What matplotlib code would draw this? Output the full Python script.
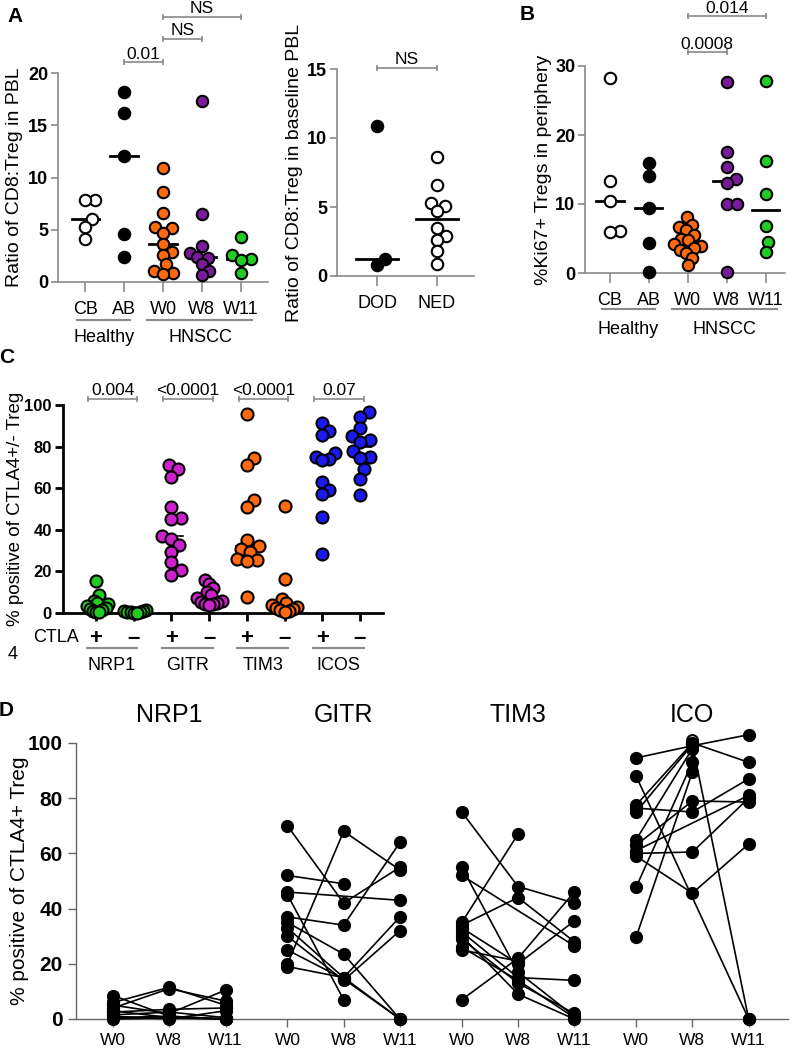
import numpy as np
import matplotlib
matplotlib.use('Agg')
import matplotlib.pyplot as plt

plt.rcParams['font.family'] = ['Liberation Sans', 'DejaVu Sans']

# ---------------- data ----------------
# panel A (left): ratio of CD8:Treg in PBL
a_groups = ['CB', 'AB', 'W0', 'W8', 'W11']
a_cb = [7.8, 7.8, 6.0, 5.3, 4.1]
a_ab = [18.2, 16.2, 12.1, 4.6, 2.4]
a_w0 = [10.9, 8.6, 6.6, 5.3, 5.2, 4.7, 3.6, 2.9, 2.6, 1.7, 1.1, 0.9, 0.8]
a_w8 = [17.3, 6.5, 3.4, 2.8, 2.4, 2.3, 1.7, 1.1, 0.7]
a_w11 = [4.3, 2.6, 2.2, 2.1, 0.9]

# panel A (right): baseline ratio by outcome
o_groups = ['DOD', 'NED']
o_dod = [10.9, 0.8, 1.2]
o_ned = [8.6, 6.6, 5.3, 5.1, 4.7, 3.5, 2.9, 2.6, 1.8, 0.9]

# panel B: %Ki67+ Tregs
b_cb = [28.3, 13.4, 10.5, 6.1, 5.9]
b_ab = [16.0, 14.1, 9.4, 4.4, 0.2]
b_w0 = [8.1, 7.0, 6.7, 6.2, 5.5, 5.0, 4.8, 4.2, 3.9, 3.6, 3.3, 2.9, 2.2, 1.1]
b_w8 = [27.7, 17.6, 15.3, 13.6, 13.1, 10.0, 10.0, 0.2]
b_w11 = [27.8, 16.3, 11.5, 6.8, 4.5, 3.1]

# panel C: % positive of CTLA4+/- Treg
c_markers = ['NRP1', 'GITR', 'TIM3', 'ICOS']
c_pvals = ['0.004', '<0.0001', '<0.0001', '0.07']
c_nrp1_pos = [15.5, 8.5, 6.0, 5.0, 4.5, 3.5, 2.5, 2.0, 1.5, 1.0, 0.5, 0.5]
c_nrp1_neg = [1.5, 1.0, 0.8, 0.5, 0.5, 0.3, 0.2, 0.2]
c_gitr_pos = [71, 69, 65.5, 51, 45.5, 45, 37, 35.5, 32.5, 29.5, 24.5, 20.5, 18.5]
c_gitr_neg = [16, 14, 12, 10, 8.5, 7, 6, 5.5, 5, 4.5, 4.5, 4]
c_tim3_pos = [95.5, 74.5, 71, 54.5, 51, 35, 32, 31, 29.5, 26, 25.5, 25, 7.5]
c_tim3_neg = [51.5, 16.5, 6.5, 5, 4, 3, 2.5, 2, 1.5, 1, 0.5]
c_icos_pos = [91.5, 87.5, 85.5, 77, 75, 74, 73.5, 63, 59, 57, 46, 28.5]
c_icos_neg = [96.5, 94, 89, 85, 83, 82, 78, 75, 74.5, 69, 64.5, 56.5]

# panel D: paired values per patient (W0, W8, W11), None = missing
d_timepoints = ['W0', 'W8', 'W11']
d_titles = ['NRP1', 'GITR', 'TIM3', 'ICO']
d_nrp1 = [[8.5, 1, 0], [6, 11.5, 5], [5, 2, 10.5], [4, 11, 6.5], [3, 0.5, 0],
          [2.5, 3.5, 4], [1.5, 2.5, 0.5], [1, 0, 3], [0.5, 1, 0], [0, 0.5, 0]]
d_gitr = [[70, 42, 55], [20, 68, 54], [52, 49, None], [46, None, 43], [45, 7, None],
          [37, 34, 64], [35, 23.5, 0], [33, 15, 37], [30, 14, 32], [25, 14.5, 0], [19, 15, 0]]
d_tim3 = [[75, 48, 42], [55, 17, 1], [52, None, 26.5], [35, 67, None], [34, 44, 28],
          [33, 20, 35.5], [31.5, 15, 14], [30, 9, 0], [29, 13, 2], [26, 14, 0.5],
          [25, 21, None], [7, 22, 46]]
d_ico = [[94.6, 99, 103], [88, None, 0], [59, 45.6, 63.4], [77.5, 100, 93], [76.4, 75, 87],
         [75, 99.5, 0], [65, 98, None], [63, 79, 78.6], [61, None, 81], [60, 60.5, 80],
         [47.8, 93, None], [29.7, 89.5, None]]
d_ico_open_w8 = [101]

ORANGE = '#ff6a10'
PURPLE = '#7b1a9c'
GREEN = '#22cc22'
MAGENTA = '#cc22cc'
BLUE = '#1a1aee'
GRAY = '#8a8a8a'

W, H = 793, 1050
fig = plt.figure(figsize=(W / 100, H / 100), dpi=100)


def rect(l, t, r, b):
    return [l / W, 1 - b / H, (r - l) / W, (b - t) / H]


def swarm(ax, vals, diam, lim):
    # simple beeswarm, squeezed to +-lim data units like GraphPad
    ypx = ax.transData.transform([(0, v) for v in vals])[:, 1]
    xs = ax.transData.transform([(0, 0), (1, 0)])[:, 0]
    xscale = xs[1] - xs[0]
    placed = []
    offs = np.zeros(len(vals))
    for i in np.argsort(vals):
        y = ypx[i]
        cands = [0.0]
        for px, py in placed:
            dy = y - py
            if abs(dy) < diam:
                dx = np.sqrt(diam ** 2 - dy ** 2)
                cands += [px + dx, px - dx]
        cands.sort(key=abs)
        for c in cands:
            if all((c - px) ** 2 + (y - py) ** 2 >= diam ** 2 - 1e-6 for px, py in placed):
                break
        placed.append((c, y))
        offs[i] = c / xscale
    m = np.abs(offs).max()
    if m > lim:
        offs *= lim / m
    return offs


def gray_axes(ax, yticks, xlabels):
    for s in ['top', 'right']:
        ax.spines[s].set_visible(False)
    for s in ['left', 'bottom']:
        ax.spines[s].set_color(GRAY)
        ax.spines[s].set_linewidth(1.2)
    ax.tick_params(axis='both', color=GRAY, width=1.2)
    ax.tick_params(axis='y', length=5, pad=2)
    ax.tick_params(axis='x', length=7, pad=7)
    ax.set_yticks(yticks)
    ax.set_yticklabels([str(t) for t in yticks], fontweight='bold', fontsize=13)
    ax.set_xticks(range(len(xlabels)))
    ax.set_xticklabels(xlabels, fontsize=13)


def bracket(ax, x1, x2, y, text, color=GRAY):
    ax.plot([x1, x2], [y, y], color=color, lw=1.2, marker='|', ms=5, mew=1.2, clip_on=False)
    ax.annotate(text, ((x1 + x2) / 2, y), xytext=(0, 2.5), textcoords='offset points',
                ha='center', va='baseline', fontsize=12.5, annotation_clip=False)


def dots(ax, groups, faces, diam=10, s=68, medw=0.35, medlw=2, lim=0.3):
    for i, (vals, fc) in enumerate(zip(groups, faces)):
        offs = swarm(ax, vals, diam, lim)
        ax.scatter(i + offs, vals, s=s, c=fc, edgecolors='black', linewidths=1.5,
                   zorder=3, clip_on=False)
        ax.plot([i - medw, i + medw], [np.median(vals)] * 2, color='black', lw=medlw, zorder=2)


def group_lines(ax, spans, names, yline, ytext, fs=13):
    tr = ax.get_xaxis_transform()
    for (x1, x2), name in zip(spans, names):
        ax.plot([x1, x2], [yline, yline], color=GRAY, lw=1.5, transform=tr, clip_on=False)
        ax.text((x1 + x2) / 2, ytext, name, transform=tr, ha='center', va='center', fontsize=fs)


# ---------------- panel A left ----------------
ax1 = fig.add_axes(rect(58, 73, 268, 282))
ax1.set_xlim(-0.7, 4.7)
ax1.set_ylim(0, 20)
gray_axes(ax1, [0, 5, 10, 15, 20], a_groups)
dots(ax1, [a_cb, a_ab, a_w0, a_w8, a_w11], ['white', 'black', ORANGE, PURPLE, GREEN])
bracket(ax1, 1, 2, 21.05, '0.01')
bracket(ax1, 2, 3, 23.3, 'NS')
bracket(ax1, 2, 4, 25.4, 'NS')
group_lines(ax1, [(-0.2, 1.15), (1.6, 4.3)], ['Healthy', 'HNSCC'], -0.182, -0.265)
ax1.set_ylabel('Ratio of CD8:Treg in PBL', fontsize=14)
ax1.yaxis.set_label_coords(-0.165, 0.5)

# ---------------- panel A right ----------------
ax2 = fig.add_axes(rect(337, 69, 474, 276))
ax2.set_xlim(-0.67, 1.62)
ax2.set_ylim(0, 15)
gray_axes(ax2, [0, 5, 10, 15], o_groups)
dots(ax2, [o_dod, o_ned], ['black', 'white'], lim=0.3)
bracket(ax2, 0, 1, 15.1, 'NS')
ax2.set_ylabel('Ratio of CD8:Treg in baseline PBL', fontsize=14)
ax2.yaxis.set_label_coords(-0.25, 0.5)

# ---------------- panel B ----------------
ax3 = fig.add_axes(rect(585, 66, 785, 273))
ax3.set_xlim(-0.64, 4.5)
ax3.set_ylim(0, 30)
gray_axes(ax3, [0, 10, 20, 30], a_groups)
dots(ax3, [b_cb, b_ab, b_w0, b_w8, b_w11], ['white', 'black', ORANGE, PURPLE, GREEN], lim=0.35)
bracket(ax3, 2, 3, 32.0, '0.0008')
bracket(ax3, 2, 4, 37.2, '0.014')
group_lines(ax3, [(-0.2, 1.15), (1.6, 4.3)], ['Healthy', 'HNSCC'], -0.174, -0.275)
ax3.set_ylabel('%Ki67+ Tregs in periphery', fontsize=14)
ax3.yaxis.set_label_coords(-0.165, 0.5)

# ---------------- panel C ----------------
ax4 = fig.add_axes(rect(63, 405, 383, 613))
ax4.set_xlim(-0.875, 7.61)
ax4.set_ylim(0, 100)
for s in ['top', 'right']:
    ax4.spines[s].set_visible(False)
for s in ['left', 'bottom']:
    ax4.spines[s].set_linewidth(2)
ax4.tick_params(axis='both', width=2, length=6)
ax4.tick_params(axis='y', pad=2)
ax4.tick_params(axis='x', pad=5)
ax4.set_yticks(range(0, 101, 20))
ax4.set_yticklabels([str(t) for t in range(0, 101, 20)], fontweight='bold', fontsize=12)
c_sets = [c_nrp1_pos, c_nrp1_neg, c_gitr_pos, c_gitr_neg,
          c_tim3_pos, c_tim3_neg, c_icos_pos, c_icos_neg]
c_faces = [GREEN, GREEN, MAGENTA, MAGENTA, ORANGE, ORANGE, BLUE, BLUE]
dots(ax4, c_sets, c_faces, diam=10, s=75, medw=0.3, medlw=1.2, lim=0.33)
ax4.set_xticks(range(8))
ax4.set_xticklabels(['+', '\u2013'] * 4, fontweight='bold', fontsize=16)
for k, p in enumerate(c_pvals):
    bracket(ax4, 2 * k - 0.22, 2 * k + 1.1, 103, p)
group_lines(ax4, [(2 * k - 0.25, 2 * k + 1.1) for k in range(4)], c_markers, -0.168, -0.25)
trc = ax4.get_xaxis_transform()
ax4.text(-0.45, -0.12, 'CTLA', transform=trc, ha='right', va='center', fontsize=13)
ax4.text(-2.2, -0.2, '4', transform=trc, ha='center', va='center', fontsize=13)
ax4.set_ylabel('% positive of CTLA4+/- Treg', fontsize=13.5)
ax4.yaxis.set_label_coords(-0.122, 0.5)

# ---------------- panel D ----------------
ax5 = fig.add_axes(rect(76, 743, 788, 1019))
ax5.set_xlim(-0.66, 12.0)
ax5.set_ylim(0, 100)
for s in ['top', 'right']:
    ax5.spines[s].set_visible(False)
for s in ['left', 'bottom']:
    ax5.spines[s].set_color('#666666')
    ax5.spines[s].set_linewidth(1.0)
ax5.tick_params(axis='both', color='#666666', width=1.0, length=6)
ax5.tick_params(axis='x', pad=4)
ax5.set_yticks(range(0, 101, 20))
ax5.set_yticklabels([str(t) for t in range(0, 101, 20)], fontweight='bold', fontsize=15)
gap = 3.1
xt = []
for g, (title, pts) in enumerate(zip(d_titles, [d_nrp1, d_gitr, d_tim3, d_ico])):
    base = g * gap
    xt += [base + i for i in range(3)]
    for row in pts:
        xs = [base + i for i, v in enumerate(row) if v is not None]
        ys = [v for v in row if v is not None]
        ax5.plot(xs, ys, '-o', color='black', lw=1.2, ms=8.5, clip_on=False, zorder=3)
    ax5.text(base + 1, 1.10, title, transform=ax5.get_xaxis_transform(),
             ha='center', va='center', fontsize=18)
ax5.scatter([3 * gap + 1] * len(d_ico_open_w8), d_ico_open_w8, s=60, facecolors='white',
            edgecolors='black', linewidths=1.5, zorder=2, clip_on=False)
ax5.set_xticks(xt)
ax5.set_xticklabels(d_timepoints * 4, fontsize=12.5)
ax5.set_ylabel('% positive of CTLA4+ Treg', fontsize=15)
ax5.yaxis.set_label_coords(-0.066, 0.5)

# panel letters
for letter, (x, y) in zip('ABCD', [(15, 17), (527, 14), (7, 357), (6, 710)]):
    fig.text(x / W, 1 - y / H, letter, fontsize=15, fontweight='bold', ha='center', va='center')

fig.savefig('out.png', dpi=100)
